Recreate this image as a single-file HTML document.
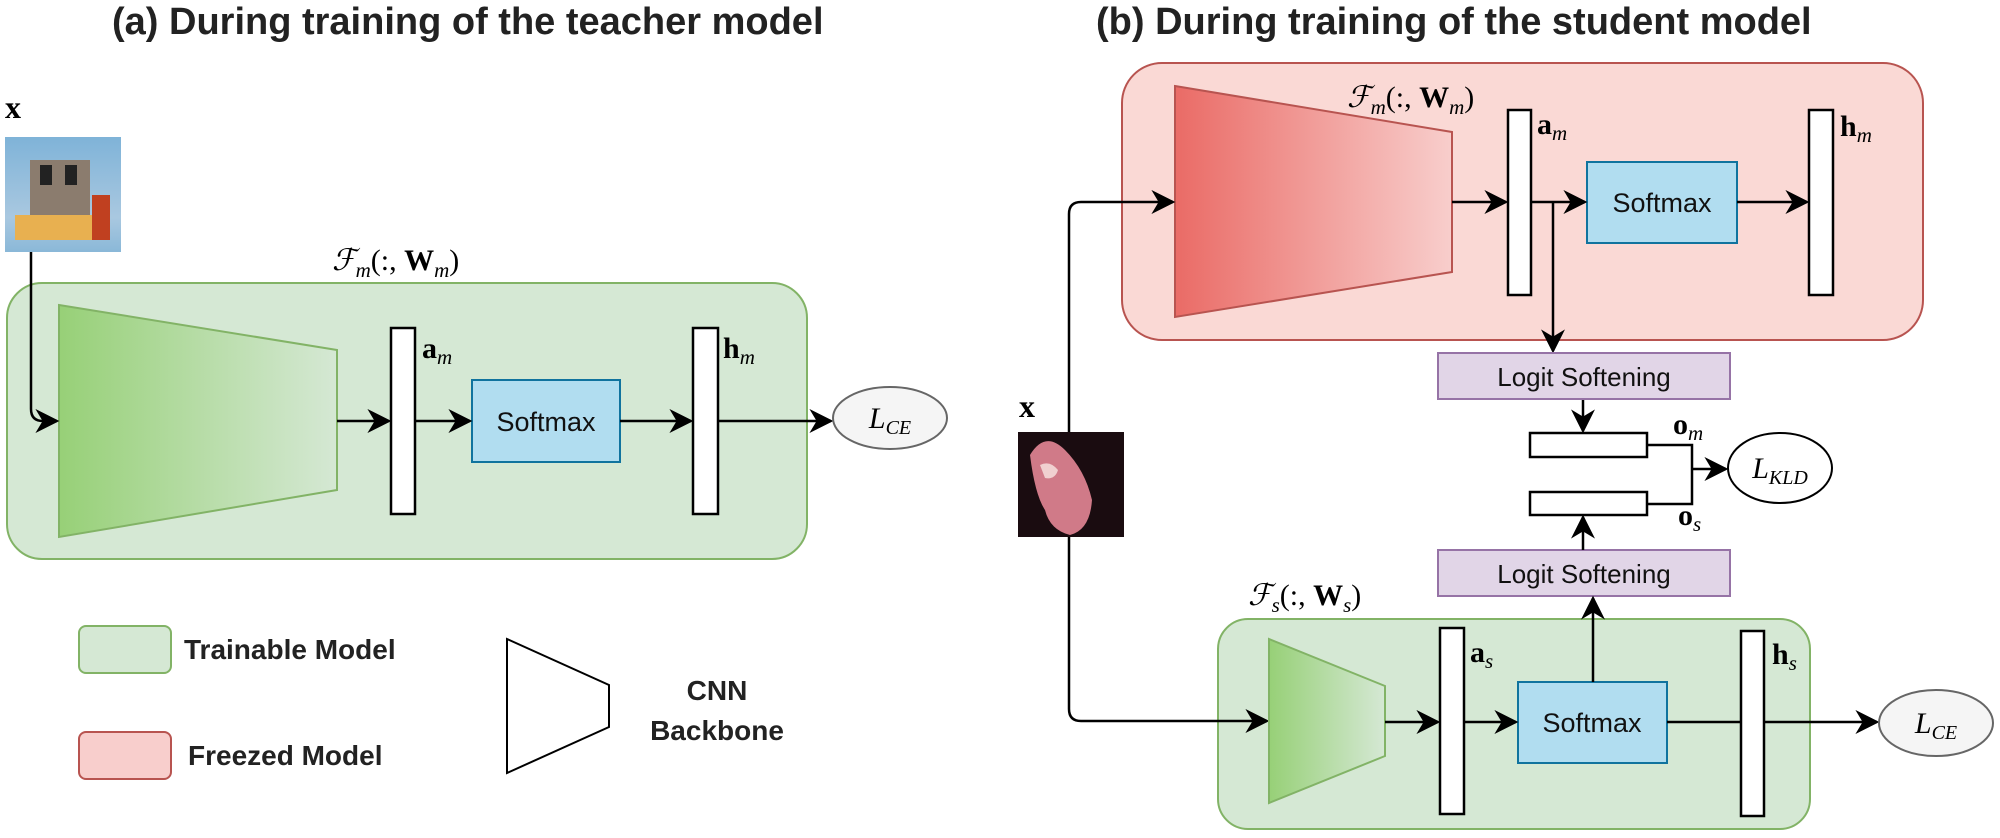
<!DOCTYPE html>
<html><head><meta charset="utf-8"><style>
body{margin:0;background:#fff}
.s{font-family:"Liberation Sans",sans-serif}
.m{font-family:"Liberation Serif",serif;font-style:italic}
.b{font-family:"Liberation Serif",serif;font-weight:bold}
</style></head><body>
<svg width="2000" height="833" viewBox="0 0 2000 833" xmlns="http://www.w3.org/2000/svg">
<defs>
<marker id="b" viewBox="0 0 10 10" refX="9" refY="5" markerWidth="24" markerHeight="24" orient="auto" markerUnits="userSpaceOnUse"><path d="M0,0 L10,5 L0,10 L3,5z" fill="#000"/></marker>
<linearGradient id="g" x1="0" x2="1"><stop offset="0" stop-color="#97d077"/><stop offset="1" stop-color="#d5e8d4"/></linearGradient>
<linearGradient id="r" x1="0" x2="1"><stop offset="0" stop-color="#ea6b66"/><stop offset="1" stop-color="#f8cecc"/></linearGradient>
<linearGradient id="sky" x1="0" y1="0" x2="0" y2="1"><stop offset="0" stop-color="#7fb3d8"/><stop offset="0.7" stop-color="#a9c8e0"/><stop offset="1" stop-color="#8ab8d8"/></linearGradient>
</defs>
<g stroke-width="2.5" fill="none" stroke="#000">
<text x="112" y="34" font-size="38" font-weight="bold" fill="#222" stroke="none" class="s">(a) During training of the teacher model</text>
<text x="1096" y="34" font-size="38" font-weight="bold" fill="#222" stroke="none" class="s">(b) During training of the student model</text>

<!-- LEFT -->
<text x="5" y="118" font-size="32" class="b" fill="#000" stroke="none">x</text>
<rect x="5" y="137" width="116" height="115" fill="url(#sky)" stroke="none"/>
<rect x="30" y="160" width="60" height="60" fill="#8b7c6e" stroke="none"/>
<rect x="40" y="165" width="12" height="20" fill="#222" stroke="none"/>
<rect x="65" y="165" width="12" height="20" fill="#222" stroke="none"/>
<rect x="15" y="215" width="90" height="25" fill="#e8b050" stroke="none"/>
<rect x="92" y="195" width="18" height="45" fill="#c04020" stroke="none"/>
<rect x="7" y="283" width="800" height="276" rx="35" fill="#d5e8d4" stroke="#82b366" stroke-width="2"/>
<text x="332" y="270" font-size="30" class="m" fill="#000" stroke="none">ℱ<tspan font-size="21" dy="7">m</tspan><tspan dy="-7" font-style="normal">(:, </tspan><tspan font-weight="bold" font-style="normal">W</tspan><tspan font-size="21" dy="7">m</tspan><tspan dy="-7" font-style="normal">)</tspan></text>
<polygon points="59,305 337,350 337,490 59,537" fill="url(#g)" stroke="#82b366" stroke-width="2"/>
<path d="M31,252 V409 Q31,421 43,421 H57" marker-end="url(#b)"/>
<rect x="391" y="328" width="24" height="186" fill="#fff"/>
<text x="422" y="358" font-size="30" class="b" fill="#000" stroke="none">a<tspan font-size="21" dy="6" font-style="italic" font-weight="normal">m</tspan></text>
<rect x="472" y="380" width="148" height="82" fill="#b1ddf0" stroke="#10739e" stroke-width="2"/>
<text x="546" y="431" font-size="27" text-anchor="middle" fill="#111" stroke="none" class="s">Softmax</text>
<rect x="693" y="328" width="25" height="186" fill="#fff"/>
<text x="723" y="358" font-size="30" class="b" fill="#000" stroke="none">h<tspan font-size="21" dy="6" font-style="italic" font-weight="normal">m</tspan></text>
<path d="M337,421 H389" marker-end="url(#b)"/>
<path d="M415,421 H470" marker-end="url(#b)"/>
<path d="M620,421 H691" marker-end="url(#b)"/>
<path d="M718,421 H831" marker-end="url(#b)"/>
<ellipse cx="890" cy="418" rx="57" ry="31" fill="#f5f5f5" stroke="#666" stroke-width="2"/>
<text x="890" y="428" font-size="30" text-anchor="middle" class="m" fill="#000" stroke="none">L<tspan font-size="20" dy="6">CE</tspan></text>

<!-- legend -->
<rect x="79" y="626" width="92" height="47" rx="7" fill="#d5e8d4" stroke="#82b366" stroke-width="2"/>
<text x="184" y="659" font-size="28" font-weight="bold" fill="#222" stroke="none" class="s">Trainable Model</text>
<rect x="79" y="732" width="92" height="47" rx="7" fill="#f8cecc" stroke="#b85450" stroke-width="2"/>
<text x="188" y="765" font-size="28" font-weight="bold" fill="#222" stroke="none" class="s">Freezed Model</text>
<polygon points="507,639 609,685 609,727 507,773" fill="#fff" stroke="#000" stroke-width="2"/>
<text x="717" y="700" font-size="28" font-weight="bold" text-anchor="middle" fill="#222" stroke="none" class="s">CNN</text>
<text x="717" y="740" font-size="28" font-weight="bold" text-anchor="middle" fill="#222" stroke="none" class="s">Backbone</text>

<!-- RIGHT top -->
<rect x="1122" y="63" width="801" height="277" rx="40" fill="#fad9d5" stroke="#b85450" stroke-width="2"/>
<polygon points="1175,86 1452,132 1452,272 1175,317" fill="url(#r)" stroke="#b85450" stroke-width="2"/>
<text x="1347" y="107" font-size="30" class="m" fill="#000" stroke="none">ℱ<tspan font-size="21" dy="7">m</tspan><tspan dy="-7" font-style="normal">(:, </tspan><tspan font-weight="bold" font-style="normal">W</tspan><tspan font-size="21" dy="7">m</tspan><tspan dy="-7" font-style="normal">)</tspan></text>
<rect x="1508" y="110" width="23" height="185" fill="#fff"/>
<text x="1537" y="134" font-size="30" class="b" fill="#000" stroke="none">a<tspan font-size="21" dy="6" font-style="italic" font-weight="normal">m</tspan></text>
<rect x="1587" y="162" width="150" height="81" fill="#b1ddf0" stroke="#10739e" stroke-width="2"/>
<text x="1662" y="212" font-size="27" text-anchor="middle" fill="#111" stroke="none" class="s">Softmax</text>
<rect x="1809" y="110" width="24" height="185" fill="#fff"/>
<text x="1840" y="136" font-size="30" class="b" fill="#000" stroke="none">h<tspan font-size="21" dy="6" font-style="italic" font-weight="normal">m</tspan></text>
<path d="M1452,202 H1506" marker-end="url(#b)"/>
<path d="M1531,202 H1585" marker-end="url(#b)"/>
<path d="M1737,202 H1807" marker-end="url(#b)"/>
<path d="M1553,202 V351" marker-end="url(#b)"/>
<path d="M1069,432 V214 Q1069,202 1081,202 H1173" marker-end="url(#b)"/>

<!-- logit softening -->
<rect x="1438" y="353" width="292" height="46" fill="#e1d5e7" stroke="#9673a6" stroke-width="2"/>
<text x="1584" y="386" font-size="26" text-anchor="middle" fill="#111" stroke="none" class="s">Logit Softening</text>
<rect x="1438" y="550" width="292" height="46" fill="#e1d5e7" stroke="#9673a6" stroke-width="2"/>
<text x="1584" y="583" font-size="26" text-anchor="middle" fill="#111" stroke="none" class="s">Logit Softening</text>
<rect x="1530" y="433" width="117" height="24" fill="#fff"/>
<rect x="1530" y="492" width="117" height="23" fill="#fff"/>
<path d="M1583,400 V431" marker-end="url(#b)"/>
<path d="M1583,550 V517" marker-end="url(#b)"/>
<path d="M1647,445 H1692 V504 H1647"/>
<path d="M1692,469 H1726" marker-end="url(#b)"/>
<text x="1673" y="434" font-size="30" class="b" fill="#000" stroke="none">o<tspan font-size="21" dy="6" font-style="italic" font-weight="normal">m</tspan></text>
<text x="1678" y="525" font-size="30" class="b" fill="#000" stroke="none">o<tspan font-size="21" dy="6" font-style="italic" font-weight="normal">s</tspan></text>
<ellipse cx="1780" cy="468" rx="52" ry="35" fill="#fff" stroke="#000" stroke-width="2"/>
<text x="1780" y="478" font-size="30" text-anchor="middle" class="m" fill="#000" stroke="none">L<tspan font-size="20" dy="6">KLD</tspan></text>

<!-- frog -->
<text x="1019" y="417" font-size="32" class="b" fill="#000" stroke="none">x</text>
<rect x="1018" y="432" width="106" height="105" fill="#1a0c10" stroke="none"/>
<path d="M1030,455 Q1045,430 1065,450 Q1085,470 1092,500 Q1090,530 1070,535 Q1050,530 1045,510 Q1035,495 1030,455z" fill="#d07a88" stroke="none"/>
<path d="M1040,465 Q1050,460 1058,470 Q1055,480 1045,478z" fill="#f0d0d0" stroke="none"/>

<!-- student -->
<rect x="1218" y="619" width="592" height="210" rx="30" fill="#d5e8d4" stroke="#82b366" stroke-width="2"/>
<path d="M1069,537 V709 Q1069,721 1081,721 H1267" marker-end="url(#b)"/>
<text x="1248" y="605" font-size="30" class="m" fill="#000" stroke="none">ℱ<tspan font-size="21" dy="7">s</tspan><tspan dy="-7" font-style="normal">(:, </tspan><tspan font-weight="bold" font-style="normal">W</tspan><tspan font-size="21" dy="7">s</tspan><tspan dy="-7" font-style="normal">)</tspan></text>
<polygon points="1269,639 1385,686 1385,756 1269,803" fill="url(#g)" stroke="#82b366" stroke-width="2"/>
<rect x="1440" y="628" width="24" height="186" fill="#fff"/>
<text x="1470" y="662" font-size="30" class="b" fill="#000" stroke="none">a<tspan font-size="21" dy="6" font-style="italic" font-weight="normal">s</tspan></text>
<rect x="1518" y="682" width="149" height="81" fill="#b1ddf0" stroke="#10739e" stroke-width="2"/>
<text x="1592" y="732" font-size="27" text-anchor="middle" fill="#111" stroke="none" class="s">Softmax</text>
<rect x="1741" y="631" width="23" height="185" fill="#fff"/>
<text x="1772" y="664" font-size="30" class="b" fill="#000" stroke="none">h<tspan font-size="21" dy="6" font-style="italic" font-weight="normal">s</tspan></text>
<path d="M1385,722 H1438" marker-end="url(#b)"/>
<path d="M1464,722 H1516" marker-end="url(#b)"/>
<path d="M1667,722 H1741"/>
<path d="M1764,722 H1877" marker-end="url(#b)"/>
<path d="M1593,682 V598" marker-end="url(#b)"/>
<ellipse cx="1936" cy="723" rx="57" ry="33" fill="#f5f5f5" stroke="#666" stroke-width="2"/>
<text x="1936" y="733" font-size="30" text-anchor="middle" class="m" fill="#000" stroke="none">L<tspan font-size="20" dy="6">CE</tspan></text>
</g>
</svg>
</body></html>
